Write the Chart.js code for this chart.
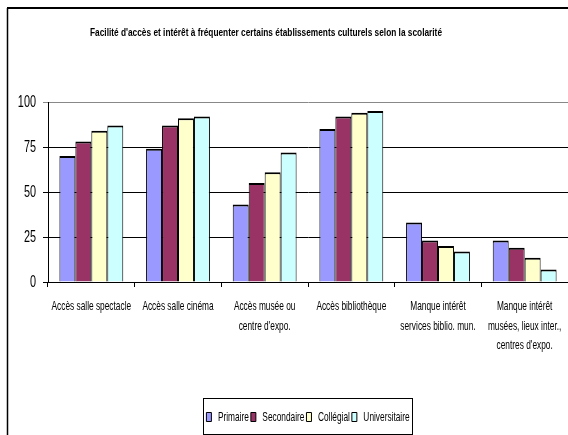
<!DOCTYPE html>
<html>
<head>
<meta charset="utf-8">
<script src="https://cdn.jsdelivr.net/npm/chart.js@4"></script>
<style>
  html, body { margin: 0; padding: 0; background: #fff; overflow: hidden; }
  #wrap { width: 568px; height: 435px; position: relative; }
</style>
</head>
<body>
<div id="wrap"><canvas id="c" width="568" height="435"></canvas></div>
<script>
// Chart text and values
const titleText = "Facilité d'accès et intérêt à fréquenter certains établissements culturels selon la scolarité";
const categories = [
  "Accès salle spectacle",
  "Accès salle cinéma",
  ["Accès musée ou", "centre d'expo."],
  "Accès bibliothèque",
  ["Manque intérêt", "services biblio. mun."],
  ["Manque intérêt", "musées, lieux inter.,", "centres d'expo."]
];
const seriesNames = ["Primaire", "Secondaire", "Collégial", "Universitaire"];
const primaire      = [70, 74, 43, 85, 33, 23];
const secondaire    = [78, 87, 55, 92, 23, 19];
const collegial     = [84, 91, 61, 94, 20, 13.5];
const universitaire = [87, 92, 72, 95, 17, 7];
const yTicks = [0, 25, 50, 75, 100];

const FONT = '"Liberation Sans", Arial, sans-serif';
const seriesColors = ["#9999FF", "#993366", "#FFFFCC", "#CCFFFF"];
const seriesValues = [primaire, secondaire, collegial, universitaire];

// Narrow lettering: all canvas text is squeezed horizontally (no condensed face installed)
const CONDENSE = 0.64;
const canvas = document.getElementById('c');
const ctx2d = canvas.getContext('2d');
const rawFillText = ctx2d.fillText.bind(ctx2d);
const rawMeasureText = ctx2d.measureText.bind(ctx2d);
ctx2d.fillText = function (text, x, y, maxWidth) {
  this.save();
  this.translate(x, y);
  this.scale(CONDENSE, 1);
  if (maxWidth === undefined) rawFillText(text, 0, 0);
  else rawFillText(text, 0, 0, maxWidth / CONDENSE);
  this.restore();
};
ctx2d.measureText = function (text) {
  const m = rawMeasureText(text);
  return {
    width: m.width * CONDENSE,
    actualBoundingBoxAscent: m.actualBoundingBoxAscent,
    actualBoundingBoxDescent: m.actualBoundingBoxDescent,
    actualBoundingBoxLeft: m.actualBoundingBoxLeft * CONDENSE,
    actualBoundingBoxRight: m.actualBoundingBoxRight * CONDENSE
  };
};

// White background, outer frame and the centred title
const framePlugin = {
  id: 'frame',
  beforeDraw(chart) {
    const ctx = chart.ctx;
    ctx.save();
    ctx.fillStyle = '#fff';
    ctx.fillRect(0, 0, chart.width, chart.height);
    ctx.strokeStyle = '#000';
    ctx.lineWidth = 1.5;
    ctx.beginPath();
    ctx.moveTo(7.5, 8);
    ctx.lineTo(7.5, chart.height);
    ctx.stroke();
    ctx.lineWidth = 2;
    ctx.beginPath();
    ctx.moveTo(7, 8);
    ctx.lineTo(chart.width, 8);
    ctx.stroke();
    ctx.restore();
  },
  afterDraw(chart) {
    const ctx = chart.ctx;
    ctx.save();
    ctx.fillStyle = '#000';
    ctx.font = 'bold 11px ' + FONT;
    ctx.textBaseline = 'middle';
    const w = rawMeasureText(titleText).width;
    const k = 352 / w;
    ctx.translate(266, 33);
    ctx.scale(k, 1);
    ctx.textAlign = 'center';
    rawFillText(titleText, 0, 0);
    ctx.restore();
  }
};

// Box around the legend entries
const legendBoxPlugin = {
  id: 'legendBox',
  afterDraw(chart) {
    const boxes = chart.legend && chart.legend.legendHitBoxes;
    if (!boxes || !boxes.length) return;
    let l = Infinity, r = -Infinity, t = Infinity, b = -Infinity;
    boxes.forEach(h => {
      l = Math.min(l, h.left); r = Math.max(r, h.left + h.width);
      t = Math.min(t, h.top); b = Math.max(b, h.top + h.height);
    });
    const cy = (t + b) / 2;
    const ctx = chart.ctx;
    ctx.save();
    ctx.strokeStyle = '#000';
    ctx.lineWidth = 1;
    ctx.strokeRect(Math.round(l - 3) + 0.5, Math.round(cy - 19) + 0.5, Math.round(r - l + 6), 36);
    ctx.restore();
  }
};

new Chart(canvas, {
  type: 'bar',
  data: {
    labels: categories,
    datasets: seriesNames.map((name, i) => ({
      label: name,
      data: seriesValues[i],
      backgroundColor: seriesColors[i],
      borderColor: '#000',
      borderWidth: { top: 2, left: 1, right: 1, bottom: 0 },
      categoryPercentage: 0.737,
      barPercentage: 1.0
    }))
  },
  options: {
    responsive: false,
    animation: false,
    layout: { padding: { top: 102, left: 0, right: 0, bottom: 1.5 } },
    plugins: {
      title: { display: false },
      tooltip: { enabled: false },
      legend: {
        position: 'bottom',
        fullSize: false,
        labels: {
          color: '#000',
          font: { family: FONT, size: 13 },
          boxWidth: 5,
          boxHeight: 9,
          padding: 2
        }
      }
    },
    scales: {
      x: {
        afterFit(scale) {
          scale.height = 126.5;
          scale.paddingLeft = 0;
          scale.paddingRight = 0;
        },
        grid: { offset: true, drawOnChartArea: false, color: '#000', tickLength: 5 },
        border: { color: '#000', width: 1 },
        ticks: {
          color: '#000',
          font: { family: FONT, size: 13, lineHeight: 1.5 },
          padding: 10,
          maxRotation: 0,
          autoSkip: false
        }
      },
      y: {
        min: 0,
        max: 100,
        afterFit(scale) { scale.width = 48; },
        afterBuildTicks(scale) { scale.ticks = yTicks.map(v => ({ value: v })); },
        grid: {
          color: ctx => (ctx.tick && ctx.tick.value === 100) ? '#888' : '#000',
          tickLength: 5,
          lineWidth: 1
        },
        border: { color: '#000', width: 1 },
        ticks: {
          color: '#000',
          font: { family: FONT, size: 17 },
          padding: 7
        }
      }
    }
  },
  plugins: [framePlugin, legendBoxPlugin]
});
</script>
</body>
</html>
